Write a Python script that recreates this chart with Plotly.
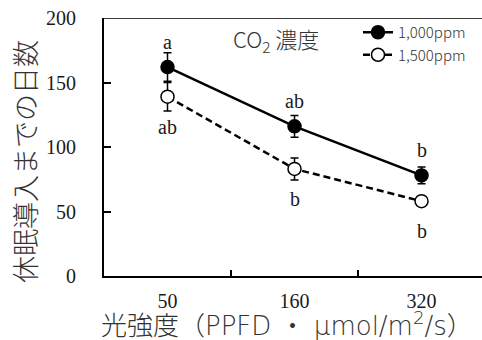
import plotly.graph_objects as go

# ---- data ----
categories = ["50", "160", "320"]
mean_1000 = [162, 116, 78]
err_1000 = [11, 8.5, 6.5]
mean_1500 = [139, 83, 58]
err_1500 = [11, 8.5, 2]
letters_1000 = ["a", "ab", "b"]
letters_1500 = ["ab", "b", "b"]
series_names = ["1,000ppm", "1,500ppm"]
y_ticks = [0, 50, 100, 150, 200]

SERIF = "Liberation Serif, serif"
SANS = "Noto Sans CJK JP"
LATIN_SANS = "DejaVu Sans, Noto Sans CJK JP"
INK = "#1a1a1a"
SOFT = "#333333"

# plot area in pixels
L, R, T, B, W, H = 104, 0, 18, 64, 482, 340
PW, PH = W - L - R, H - T - B

def px(xp):
    return (xp - L) / PW

def py(yp):
    return (H - B - yp) / PH

fig = go.Figure()
fig.add_trace(go.Scatter(
    x=categories, y=mean_1000, name=series_names[0], mode="lines+markers",
    line=dict(color="black", width=2.5),
    marker=dict(symbol="circle", size=13, color="black", line=dict(color="black", width=1.5)),
    error_y=dict(type="data", array=err_1000, color="black", thickness=1.5, width=4),
))
fig.add_trace(go.Scatter(
    x=categories, y=mean_1500, name=series_names[1], mode="lines+markers",
    line=dict(color="black", width=2.5, dash="7px,4px"),
    marker=dict(symbol="circle", size=13, color="white", line=dict(color="black", width=1.5)),
    error_y=dict(type="data", array=err_1500, color="black", thickness=1.5, width=4),
))

# significance letters (category index positions, fixed pixel offset from the mean)
for i, (m, t) in enumerate(zip(mean_1000, letters_1000)):
    fig.add_annotation(x=i, y=m, text=t, showarrow=False, yanchor="bottom", yshift=12,
                       font=dict(family=SERIF, size=20, color=INK))
for i, (m, t) in enumerate(zip(mean_1500, letters_1500)):
    fig.add_annotation(x=i, y=m, text=t, showarrow=False, yanchor="top", yshift=-17,
                       font=dict(family=SERIF, size=20, color=INK))

# CO2 label
fig.add_annotation(xref="paper", yref="paper", x=px(231), y=py(39),
                   text="CO<sub>2</sub> 濃度", showarrow=False, xanchor="left", yanchor="middle",
                   font=dict(family=SANS, size=22, color=SOFT, weight=300))

# y title
fig.add_annotation(xref="paper", yref="paper", x=px(24), y=py(162),
                   text="休眠導入までの日数", showarrow=False, textangle=-90,
                   xanchor="center", yanchor="middle",
                   font=dict(family=SANS, size=27, color=SOFT, weight=300))

# x title
fig.add_annotation(xref="paper", yref="paper", x=px(100), y=py(324), borderpad=0,
                   text="光強度（PPFD ・ μmol/m<sup>2</sup>/s）", showarrow=False,
                   xanchor="left", yanchor="middle",
                   font=dict(family=LATIN_SANS, size=26, color=SOFT, weight=300))

# top frame line
fig.add_shape(type="line", xref="paper", yref="y", x0=0, x1=1, y0=200, y1=200,
              line=dict(color="black", width=1.5))

fig.update_layout(
    width=W, height=H,
    margin=dict(l=L, r=R, t=T, b=B, autoexpand=False),
    paper_bgcolor="white", plot_bgcolor="white",
    showlegend=True,
    legend=dict(x=px(358), y=py(16), xanchor="left", yanchor="top",
                bgcolor="rgba(0,0,0,0)", font=dict(family=SANS, size=15, color=SOFT, weight=300),
                tracegroupgap=0, itemwidth=30),
    xaxis=dict(
        type="category", range=[-0.5, 2.476], automargin=False,
        showline=True, linecolor="black", linewidth=2,
        ticks="inside", ticklen=6, tickwidth=1.5, tickcolor="black",
        tickson="boundaries", showgrid=False, zeroline=False,
        tickfont=dict(family=SERIF, size=20, color=INK),
        ticklabelstandoff=6,
    ),
    yaxis=dict(
        range=[0, 200], tickvals=y_ticks, automargin=False,
        showline=True, linecolor="black", linewidth=2,
        ticks="inside", ticklen=7, tickwidth=1.5, tickcolor="black",
        showgrid=False, zeroline=False,
        tickfont=dict(family=SERIF, size=20, color=INK),
        ticklabelstandoff=22,
    ),
)

fig.write_html("out.html", config={"displayModeBar": False},
               post_script="document.body.style.margin='0';document.body.style.padding='0';")
